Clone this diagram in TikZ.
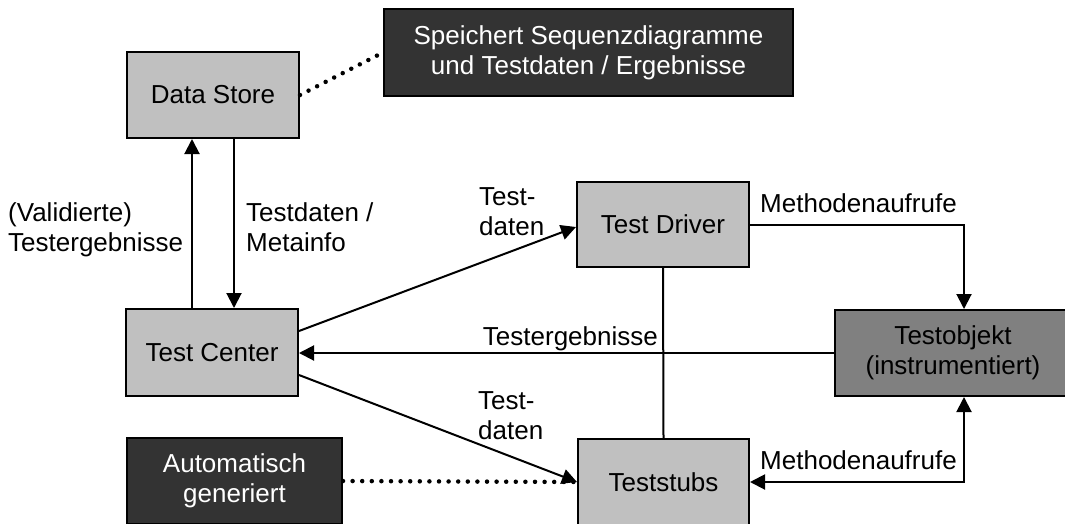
\documentclass[tikz,border=0pt]{standalone}
\usepackage{fontspec}
\setmainfont{Liberation Sans}
\usetikzlibrary{arrows.meta}
\definecolor{lightbox}{HTML}{C0C0C0}
\definecolor{darkbox}{HTML}{333333}
\definecolor{midbox}{HTML}{808080}
\begin{document}
\begin{tikzpicture}[x=1pt,y=-1pt,
  font=\fontsize{26}{30}\selectfont,
  box/.style={draw=black,line width=2pt,rectangle,align=center,inner sep=0pt},
  light/.style={box,fill=lightbox},
  dark/.style={box,fill=darkbox,text=white},
  mid/.style={box,fill=midbox},
  conn/.style={line width=2pt,-{Triangle[length=15pt,width=15pt]}},
  plain/.style={line width=2pt},
  dotline/.style={line width=4.5pt,line cap=round,dash pattern=on 0pt off 9.6pt},
  lbl/.style={inner sep=0pt,align=left}]
\clip (0,0) rectangle (1065,523);
\fill[white] (0,0) rectangle (1065,523);

\node[light,minimum width=172pt,minimum height=86pt] (ds) at (213,95) {Data Store};
\node[dark,minimum width=409pt,minimum height=87pt] (sp) at (588.5,52.5) {Speichert Sequenzdiagramme\\und Testdaten / Ergebnisse};
\node[light,minimum width=172pt,minimum height=87pt] (tc) at (212,352.5) {Test Center};
\node[light,minimum width=172pt,minimum height=85pt] (td) at (663,224.5) {Test Driver};
\node[mid,minimum width=236pt,minimum height=86pt] (to) at (953,353) {Testobjekt\\(instrumentiert)};
\node[light,minimum width=171pt,minimum height=86pt] (ts) at (663.5,482) {Teststubs};
\node[dark,minimum width=215pt,minimum height=86pt] (ag) at (234.5,481) {Automatisch\\generiert};

\draw[dotline] (ds.east) -- (sp.west);
\draw[dotline] (ag.east) -- (ts.west);

\draw[conn] ([xshift=-20pt]tc.north) -- ([xshift=-21pt]ds.south);
\draw[conn] ([xshift=21pt]ds.south) -- ([xshift=22pt]tc.north);
\draw[conn] ([yshift=21.5pt]tc.east) -- ([yshift=-2.5pt]td.west);
\draw[conn] ([yshift=-22.5pt]tc.east) -- (ts.west);
\draw[conn] (to.west) -- (to.west -| tc.east);
\draw[conn] (td.east) -| ([xshift=11pt]to.north);
\draw[line width=2pt,{Triangle[length=15pt,width=15pt]}-{Triangle[length=15pt,width=15pt]}] ([xshift=11pt]to.south) |- (ts.east);
\draw[plain] (td.south) -- (ts.north);

\node[lbl,anchor=base west] (l1) at (8,251) {(Validierte)\\Testergebnisse};
\node[lbl,anchor=base west] (l2) at (246,251) {Testdaten /\\Metainfo};
\node[lbl,anchor=base west] (l3) at (479,235) {Test-\\daten};
\node[lbl,anchor=base west] (l4) at (478,439) {Test-\\daten};
\node[lbl,anchor=base east] (l5) at (658,345) {Testergebnisse};
\node[lbl,anchor=base west] (l6) at (760,212) {Methodenaufrufe};
\node[lbl,anchor=base west] (l7) at (760,469) {Methodenaufrufe};
\end{tikzpicture}
\end{document}
